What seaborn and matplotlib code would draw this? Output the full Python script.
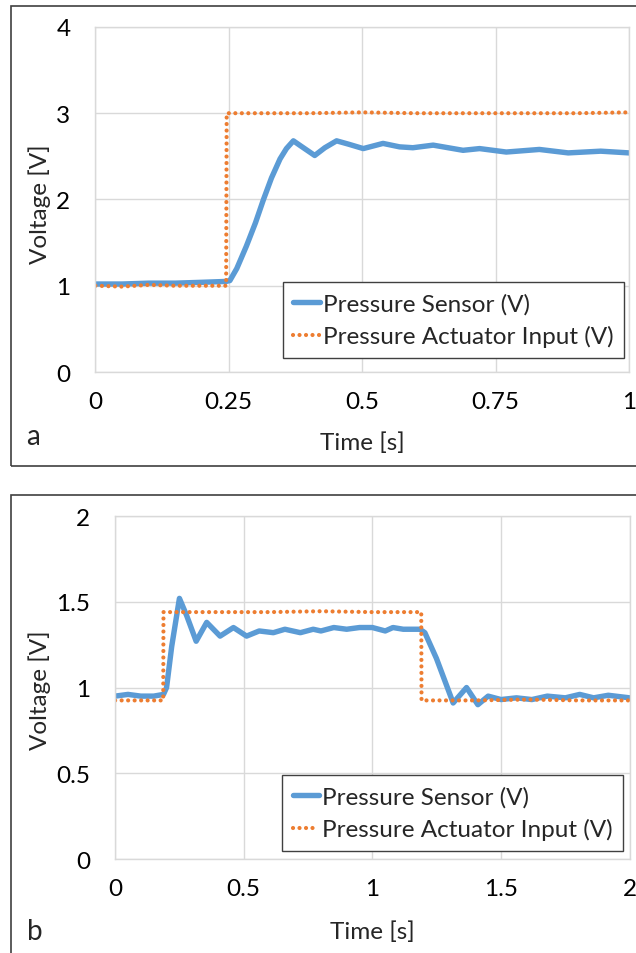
import pandas as pd
import matplotlib.pyplot as plt
import seaborn as sns
from matplotlib.patches import Rectangle

# values (time in s, voltage in V)
a_sensor_t = [0.0, 0.05, 0.10, 0.15, 0.20, 0.245, 0.252, 0.265, 0.283, 0.30, 0.315, 0.33,
              0.346, 0.358, 0.371, 0.385, 0.411, 0.43, 0.452, 0.475, 0.502, 0.539, 0.57,
              0.595, 0.633, 0.689, 0.72, 0.77, 0.832, 0.886, 0.947, 1.0]
a_sensor_v = [1.02, 1.02, 1.03, 1.03, 1.04, 1.05, 1.06, 1.2, 1.46, 1.73, 2.0, 2.25,
              2.47, 2.59, 2.68, 2.62, 2.51, 2.6, 2.68, 2.64, 2.59, 2.65, 2.61,
              2.6, 2.63, 2.57, 2.59, 2.55, 2.58, 2.54, 2.56, 2.54]
a_input_t = [0.0, 0.05, 0.10, 0.15, 0.20, 0.245, 0.246, 0.30, 0.40, 0.50, 0.60, 0.70, 0.80, 0.90, 1.0]
a_input_v = [1.0, 0.99, 1.01, 1.0, 1.0, 1.0, 3.0, 3.0, 3.0, 3.01, 3.0, 3.0, 3.0, 3.0, 3.01]

b_sensor_t = [0.0, 0.05, 0.10, 0.15, 0.188, 0.20, 0.22, 0.25, 0.278, 0.315, 0.356, 0.408,
              0.46, 0.511, 0.56, 0.615, 0.66, 0.72, 0.77, 0.80, 0.85, 0.90, 0.95, 1.0, 1.05,
              1.08, 1.12, 1.185, 1.204, 1.249, 1.314, 1.366, 1.41, 1.45, 1.50, 1.56, 1.62,
              1.68, 1.75, 1.806, 1.86, 1.917, 2.0]
b_sensor_v = [0.95, 0.96, 0.95, 0.95, 0.96, 1.0, 1.24, 1.52, 1.42, 1.27, 1.38, 1.30,
              1.35, 1.30, 1.33, 1.32, 1.34, 1.32, 1.34, 1.33, 1.35, 1.34, 1.35, 1.35, 1.33,
              1.35, 1.34, 1.34, 1.32, 1.17, 0.91, 1.0, 0.90, 0.95, 0.93, 0.94, 0.93,
              0.95, 0.94, 0.96, 0.94, 0.955, 0.94]
b_input_t = [0.0, 0.10, 0.187, 0.188, 0.40, 0.60, 0.80, 1.0, 1.19, 1.191, 1.40, 1.60, 1.80, 2.0]
b_input_v = [0.925, 0.925, 0.925, 1.44, 1.44, 1.44, 1.445, 1.44, 1.44, 0.925, 0.925, 0.93, 0.925, 0.925]

a_xticks = [0, 0.25, 0.5, 0.75, 1]
a_xlabels = ['0', '0.25', '0.5', '0.75', '1']
a_yticks = [0, 1, 2, 3, 4]
b_xticks = [0, 0.5, 1, 1.5, 2]
b_xlabels = ['0', '0.5', '1', '1.5', '2']
b_yticks = [0, 0.5, 1, 1.5, 2]
b_ylabels = ['0', '0.5', '1', '1.5', '2']

series_names = ['Pressure Sensor (V)', 'Pressure Actuator Input (V)']
blue = '#5B9BD5'
orange = '#ED7D31'
FS = 17.5

sns.set_style("white")
plt.rcParams['font.family'] = ['Lato', 'DejaVu Sans']
plt.rcParams['font.size'] = FS

fig = plt.figure(figsize=(6.36, 9.54), dpi=100)
ax_a = fig.add_axes([0.150, 0.609, 0.839, 0.3617])
ax_b = fig.add_axes([0.181, 0.0985, 0.809, 0.3595])

# panel frames
fig.patches.append(Rectangle((0.018, 0.5105), 1.0, 0.4822, transform=fig.transFigure,
                             fill=False, edgecolor='#404040', lw=1.2))
fig.patches.append(Rectangle((0.018, -0.05), 1.0, 0.53, transform=fig.transFigure,
                             fill=False, edgecolor='#404040', lw=1.2))


def draw(ax, s_t, s_v, i_t, i_v):
    sns.lineplot(x=s_t, y=s_v, ax=ax, color=blue, lw=3.9, sort=False, estimator=None,
                 label=series_names[0])
    sns.lineplot(x=i_t, y=i_v, ax=ax, color=orange, lw=3.0, sort=False, estimator=None,
                 label=series_names[1])
    ln = ax.get_lines()[-1]
    ln.set_linestyle((0, (0.01, 1.55)))
    ln.set_dash_capstyle('round')
    ax.grid(True, color='#d9d9d9', lw=1)
    for sp in ax.spines.values():
        sp.set_color('#d9d9d9')
        sp.set_linewidth(1)
    ax.tick_params(length=0, labelsize=FS, colors='black')
    ax.tick_params(axis='x', pad=14)
    ax.tick_params(axis='y', pad=18)
    leg = ax.legend(loc='upper right', fancybox=False, edgecolor='#404040', framealpha=1,
                    fontsize=FS, handlelength=1.1, handletextpad=0.1, borderpad=0.45,
                    labelspacing=0.45, borderaxespad=0)
    leg.get_frame().set_linewidth(1)
    return leg


leg_a = draw(ax_a, a_sensor_t, a_sensor_v, a_input_t, a_input_v)
ax_a.set_xlim(0, 1)
ax_a.set_ylim(0, 4)
ax_a.set_xticks(a_xticks, a_xlabels)
ax_a.set_yticks(a_yticks)
leg_a.set_bbox_to_anchor((0.991, 0.261), transform=ax_a.transAxes)
ax_a.set_xlabel('Time [s]', fontsize=FS, va='center')
ax_a.set_ylabel('Voltage [V]', fontsize=FS, va='center')
ax_a.xaxis.set_label_coords(0.5, -0.203)
ax_a.yaxis.set_label_coords(-0.104, 0.49)

leg_b = draw(ax_b, b_sensor_t, b_sensor_v, b_input_t, b_input_v)
ax_b.set_xlim(0, 2)
ax_b.set_ylim(0, 2)
ax_b.set_xticks(b_xticks, b_xlabels)
ax_b.set_yticks(b_yticks, b_ylabels)
leg_b.set_bbox_to_anchor((0.988, 0.245), transform=ax_b.transAxes)
ax_b.set_xlabel('Time [s]', fontsize=FS, va='center')
ax_b.set_ylabel('Voltage [V]', fontsize=FS, va='center')
ax_b.xaxis.set_label_coords(0.5, -0.21)
ax_b.yaxis.set_label_coords(-0.146, 0.496)

fig.text(0.052, 1 - 437 / 954, 'a', fontsize=20, ha='center', va='center')
fig.text(0.055, 1 - 932 / 954, 'b', fontsize=20, ha='center', va='center')

fig.savefig('out.png', dpi=100)
